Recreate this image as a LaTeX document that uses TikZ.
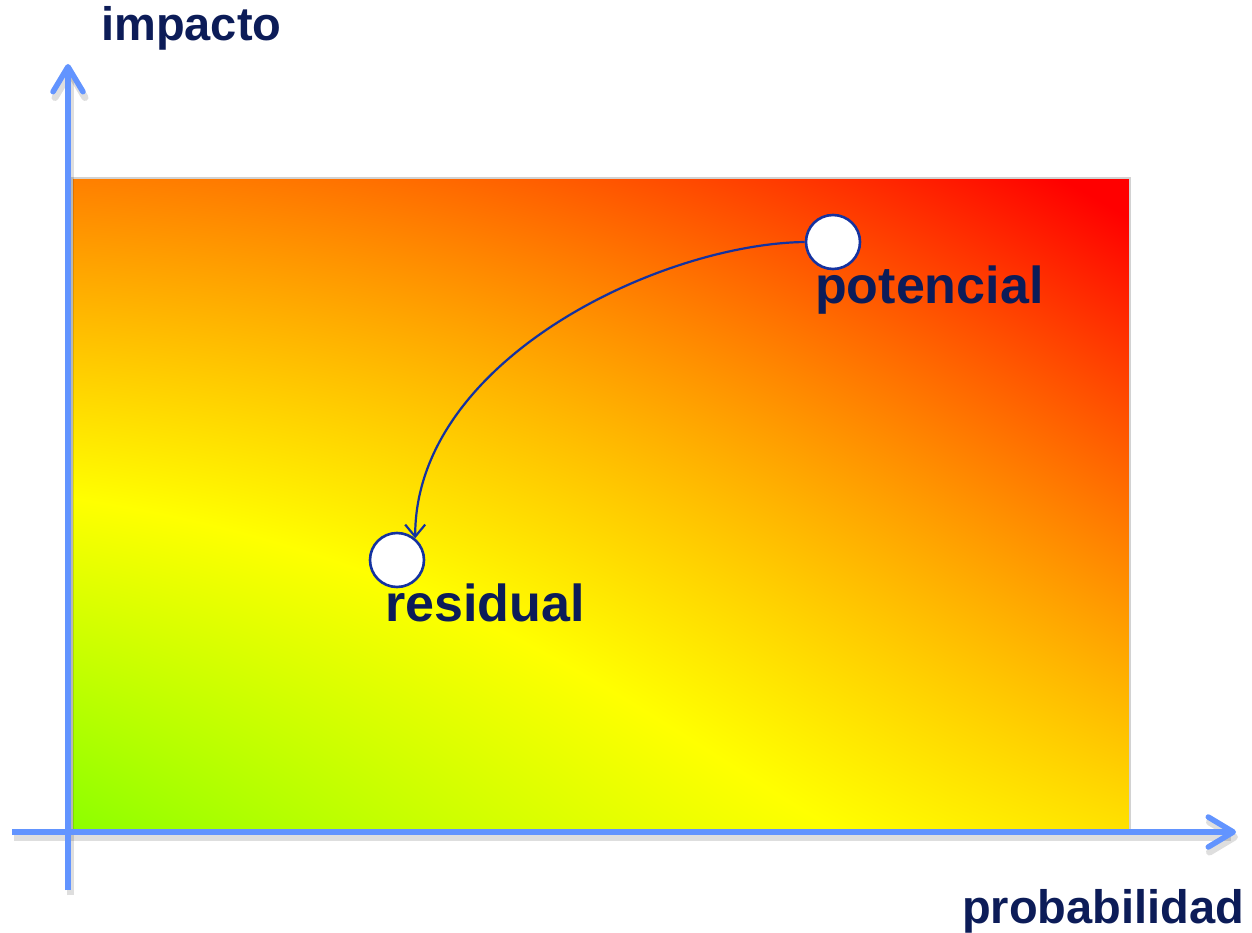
\documentclass[tikz,border=0pt]{standalone}
\usepackage{fontspec}
\setmainfont{Liberation Sans}
\usetikzlibrary{arrows.meta}
\definecolor{axisblue}{RGB}{98,148,255}
\definecolor{navytext}{RGB}{12,28,88}
\definecolor{ringblue}{RGB}{20,50,160}
\pgfdeclarefunctionalshading{riskmap}{\pgfpoint{0bp}{0bp}}{\pgfpoint{100bp}{100bp}}{}{
 25 sub 50 div exch 25 sub 50 div exch
 1 index -46 mul 87 add
 2 index dup mul 12 mul add
 1 index -49 mul add
 1 index dup mul -8 mul add
 2 index 2 index mul 0 mul add
 2 index dup dup mul sub
 2 index dup dup mul sub 48 mul
 3 index 40 mul add
 mul add
 exch pop exch pop
 dup 60 lt {60 div 1 exch 0} {120 exch sub 60 div 1 0} ifelse
}
\tikzset{
  axisline/.style={draw=axisblue, line width=5.5pt, -{Straight Barb[length=25pt,width=30pt,round]}},
  axshadow/.style={draw=black, opacity=0.13, line width=7pt, -{Straight Barb[length=25pt,width=30pt,round]}},
  ring/.style={circle, draw=ringblue, line width=2.6pt, fill=white, minimum size=54pt, inner sep=0pt},
  link/.style={draw=ringblue, line width=2.2pt, -{Straight Barb[length=12pt,width=20pt]}},
  bigtext/.style={text=navytext, font=\bfseries\fontsize{52}{52}\selectfont, inner sep=0pt, anchor=base west},
  axtext/.style={text=navytext, font=\bfseries\fontsize{47}{47}\selectfont, inner sep=0pt, anchor=base west}
}
\begin{document}
\begin{tikzpicture}[x=1pt,y=-1pt]
\useasboundingbox (0,0) rectangle (1252,933);
% heat map
\shade[shading=riskmap] (72,178) rectangle (1130,830);
\draw[gray!35, line width=1.2pt] (72,178) rectangle (1130,830);
% axes
\coordinate (xs) at (12,832);
\coordinate (xe) at (1236,832);
\coordinate (ys) at (68,890);
\coordinate (ye) at (68,64);
\draw[axshadow] ([xshift=2pt,yshift=-5pt]xs) -- ([xshift=2pt,yshift=-5pt]xe);
\draw[axshadow] ([xshift=2pt,yshift=-5pt]ys) -- ([xshift=2pt,yshift=-5pt]ye);
\draw[axisline] (xs) -- (xe);
\draw[axisline] (ys) -- (ye);
% points
\node[ring] (pot) at (833,242) {};
\node[ring] (res) at (397,560) {};
\draw[link] (pot.west) .. controls (660,244) and (415,360) .. (res.50);
% labels
\node[bigtext] (tpot) at (815,303) {potencial};
\node[bigtext] (tres) at (385,621) {residual};
\node[axtext] (timp) at (101,41) {impacto};
\node[axtext] (tprob) at (962,923) {probabilidad};
\end{tikzpicture}
\end{document}
